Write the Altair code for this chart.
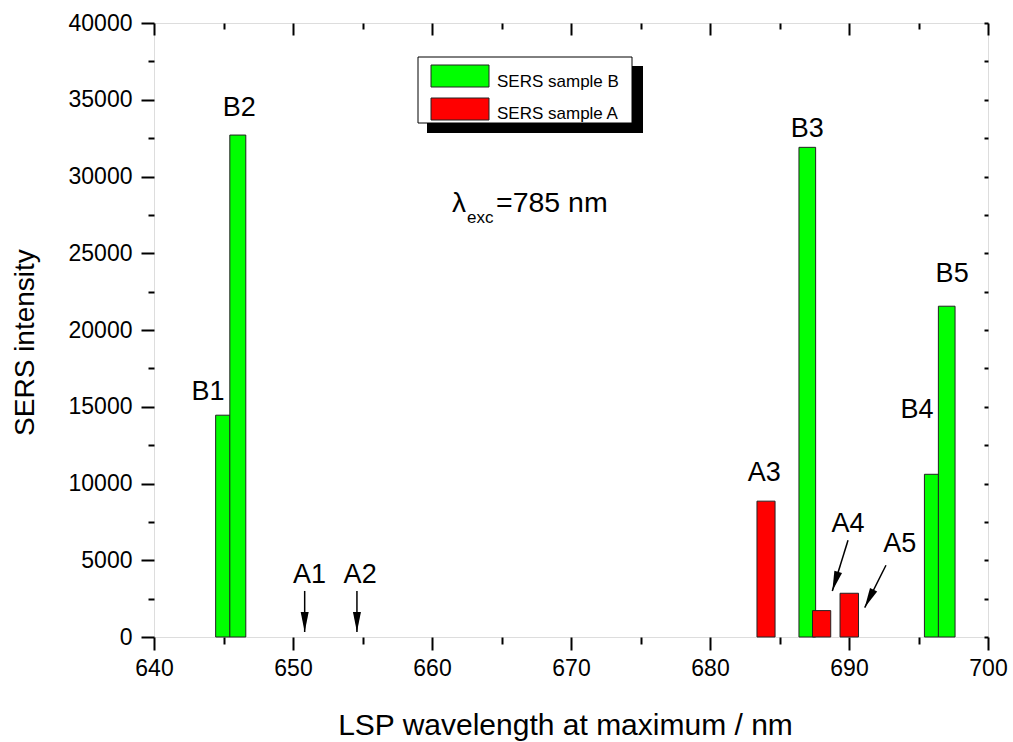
import altair as alt
import pandas as pd

# ---- data ----
b_labels = ["B1", "B2", "B3", "B4", "B5"]
b_wavelength = [644.95, 646.03, 687.0, 695.93, 697.03]
b_width = [1.03, 1.15, 1.2, 1.01, 1.2]
b_intensity = [14450, 32700, 31900, 10600, 21550]

a_labels = ["A3", "A4", "A5"]
a_wavelength = [684.03, 688.03, 690.02]
a_width = [1.3, 1.31, 1.33]
a_intensity = [8850, 1720, 2850]

series_names = ["SERS sample B", "SERS sample A"]
series_colors = ["#00FF00", "#FF0000"]

ann_text = ["B1", "B2", "B3", "B4", "B5", "A1", "A2", "A3", "A4", "A5"]
ann_x = [643.88, 646.14, 687.0, 694.9, 697.42, 651.18, 654.83, 683.9, 689.93, 693.65]
ann_y = [15435, 33910, 32586, 14242, 23110, 3521, 3521, 10153, 6847, 5543]

arrow_x = [650.84, 654.6, 689.93, 692.66]
arrow_y = [3000, 3000, 6306, 4676]
arrow_x2 = [650.84, 654.6, 688.8, 691.13]
arrow_y2 = [326, 326, 3000, 1917]
arrow_angle = [0, 0, 17.1, 26.4]

x_major = [640, 650, 660, 670, 680, 690, 700]
x_minor = [645, 655, 665, 675, 685, 695]
y_major = [0, 5000, 10000, 15000, 20000, 25000, 30000, 35000, 40000]
y_minor = [2500, 7500, 12500, 17500, 22500, 27500, 32500, 37500]
y_all = sorted(y_major + y_minor)

FONT = "Liberation Sans"

dfB = pd.DataFrame({"label": b_labels, "wl": b_wavelength, "w": b_width, "intensity": b_intensity})
dfB["left"] = dfB["wl"] - dfB["w"] / 2
dfB["right"] = dfB["wl"] + dfB["w"] / 2
dfA = pd.DataFrame({"label": a_labels, "wl": a_wavelength, "w": a_width, "intensity": a_intensity})
dfA["left"] = dfA["wl"] - dfA["w"] / 2
dfA["right"] = dfA["wl"] + dfA["w"] / 2
dfAnn = pd.DataFrame({"label": ann_text, "x": ann_x, "y": ann_y})
dfArr = pd.DataFrame({"x": arrow_x, "y": arrow_y, "x2": arrow_x2, "y2": arrow_y2, "angle": arrow_angle})
one = pd.DataFrame({"k": [0]})

xscale = alt.Scale(domain=[640, 700], nice=False, zero=False)
yscale = alt.Scale(domain=[0, 40000], nice=False, zero=False)

common_axis = dict(grid=False, tickWidth=2, tickColor="black", labelColor="black",
                   labelFont=FONT, titleFont=FONT, labelFlush=False, labelOverlap=False)

green = alt.Chart(dfB).mark_rect(color=series_colors[0], stroke="#222222", strokeWidth=1).encode(
    x=alt.X("left:Q", scale=xscale, axis=alt.Axis(
        orient="bottom", values=x_major, tickSize=13, domain=False, labelFontSize=23,
        labelPadding=7, title="LSP wavelength at maximum / nm", titleFontSize=30,
        titleFontWeight="normal", titleBaseline="alphabetic", titleY=97, titleX=411,
        titleAlign="center", titleColor="black", **common_axis)),
    x2="right:Q",
    y=alt.Y("intensity:Q", scale=yscale, axis=alt.Axis(
        orient="left", values=y_major, tickSize=13, domain=False, labelFontSize=23,
        labelPadding=9, format="d", title="SERS intensity", titleFontSize=28,
        titleFontWeight="normal", titleBaseline="alphabetic", titleAlign="center",
        titleX=-121, titleY=319, titleColor="black", **common_axis)),
    y2=alt.datum(0),
)

red = alt.Chart(dfA).mark_rect(color=series_colors[1], stroke="#222222", strokeWidth=1).encode(
    x=alt.X("left:Q", scale=xscale, axis=alt.Axis(
        orient="bottom", values=x_minor, tickSize=7, domain=False, labels=False, title="",
        **common_axis)),
    x2="right:Q",
    y=alt.Y("intensity:Q", scale=yscale, axis=alt.Axis(
        orient="left", values=y_minor, tickSize=6, domain=False, labels=False, title="",
        **common_axis)),
    y2=alt.datum(0),
)

texts = alt.Chart(dfAnn).mark_text(fontSize=27, font=FONT, align="center", baseline="alphabetic",
                                   color="black").encode(
    x=alt.X("x:Q", scale=xscale, axis=alt.Axis(
        orient="top", values=x_major, tickSize=12, offset=-12, domain=False, labels=False,
        title="", **common_axis)),
    y=alt.Y("y:Q", scale=yscale, axis=alt.Axis(
        orient="right", values=y_all, tickSize=4, offset=-4, domain=False, labels=False,
        title="", **common_axis)),
    text="label:N",
)

shafts = alt.Chart(dfArr).mark_rule(color="black", strokeWidth=1.5).encode(
    x=alt.X("x:Q", scale=xscale, axis=alt.Axis(
        orient="top", values=x_minor, tickSize=6, offset=-6, domain=False, labels=False,
        title="", **common_axis)),
    y=alt.Y("y:Q", scale=yscale, axis=None),
    x2="x2:Q",
    y2="y2:Q",
)

heads = alt.Chart(dfArr).mark_point(shape="M0,0 L-0.2,-1 L0.2,-1 Z", filled=True, color="black",
                                    size=1600, opacity=1).encode(
    x=alt.X("x2:Q", scale=xscale, axis=None),
    y=alt.Y("y2:Q", scale=yscale, axis=None),
    angle=alt.Angle("angle:Q", scale=None),
)

# legend (drawn manually with a drop shadow)
shadow = alt.Chart(one).mark_rect(color="black").encode(
    x=alt.value(273), x2=alt.value(489), y=alt.value(43), y2=alt.value(110))
box = alt.Chart(one).mark_rect(fill="white", stroke="black", strokeWidth=1).encode(
    x=alt.value(264), x2=alt.value(478), y=alt.value(34), y2=alt.value(100))
sw_b = alt.Chart(one).mark_rect(color=series_colors[0], stroke="#222222", strokeWidth=1).encode(
    x=alt.value(277), x2=alt.value(335), y=alt.value(42), y2=alt.value(64))
sw_a = alt.Chart(one).mark_rect(color=series_colors[1], stroke="#222222", strokeWidth=1).encode(
    x=alt.value(277), x2=alt.value(335), y=alt.value(75), y2=alt.value(97))
lt_b = alt.Chart(one).mark_text(fontSize=17, font=FONT, align="left", baseline="alphabetic",
                                color="black").encode(
    x=alt.value(343), y=alt.value(63.5), text=alt.value(series_names[0]))
lt_a = alt.Chart(one).mark_text(fontSize=17, font=FONT, align="left", baseline="alphabetic",
                                color="black").encode(
    x=alt.value(343), y=alt.value(95.5), text=alt.value(series_names[1]))

# excitation wavelength note
lam = alt.Chart(one).mark_text(fontSize=28, font=FONT, align="left", baseline="alphabetic",
                               color="black").encode(
    x=alt.value(298), y=alt.value(189), text=alt.value("λ"))
lam_sub = alt.Chart(one).mark_text(fontSize=17, font=FONT, align="left", baseline="alphabetic",
                                   color="black").encode(
    x=alt.value(313), y=alt.value(200), text=alt.value("exc"))
lam_val = alt.Chart(one).mark_text(fontSize=28.5, font=FONT, align="left", baseline="alphabetic",
                                   color="black").encode(
    x=alt.value(342), y=alt.value(189), text=alt.value("=785 nm"))

chart = alt.layer(
    green, red, shafts, heads, texts, shadow, box, sw_b, sw_a, lt_b, lt_a, lam, lam_sub, lam_val
).resolve_axis(
    x="independent", y="independent"
).properties(
    width=834, height=614,
    autosize=alt.AutoSizeParams(type="none"),
    padding={"left": 154, "top": 23, "right": 25, "bottom": 105},
    background="white",
).configure_view(
    stroke="black", strokeWidth=2
).configure(font=FONT)

chart.save("out.html", embed_options={"renderer": "svg", "actions": False})
